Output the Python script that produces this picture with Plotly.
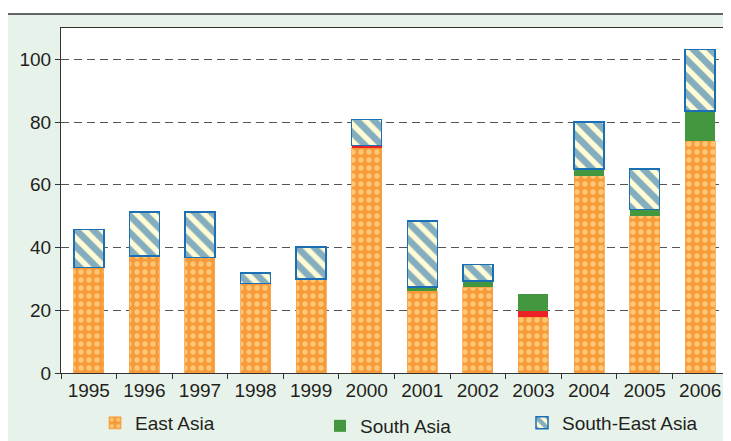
import plotly.graph_objects as go

years = ["1995", "1996", "1997", "1998", "1999", "2000", "2001", "2002", "2003", "2004", "2005", "2006"]
east_asia = [33.7, 37.3, 36.8, 28.5, 29.9, 72.0, 26.2, 27.3, 17.9, 62.9, 50.1, 74.0]
other = [0, 0, 0, 0, 0, 0.5, 0, 0, 1.8, 0, 0, 0]
south_asia = [0, 0, 0, 0, 0, 0, 1.2, 2.1, 5.5, 2.1, 2.1, 9.5]
south_east_asia = [12.0, 14.1, 14.6, 3.4, 10.3, 8.4, 21.1, 5.2, 0, 15.1, 12.8, 19.6]
y_ticks = [0, 20, 40, 60, 80, 100]

FONT = "Liberation Sans, Arial, sans-serif"
TXT = "#231f20"
GREEN_BG = "#e7f3ea"

fig = go.Figure()
fig.add_trace(go.Bar(
    x=years, y=east_asia, name="East Asia", legend="legend",
    marker=dict(color="#f8a448",
                pattern=dict(shape=".", fgcolor="#fff3ad", bgcolor="#f79a3a", size=8, solidity=0.35),
                line=dict(color="#f7a14a", width=0.8)),
))
fig.add_trace(go.Bar(
    x=years, y=other, name="Other", showlegend=False,
    marker=dict(color="#ed2227", line=dict(width=0)),
))
fig.add_trace(go.Bar(
    x=years, y=south_asia, name="South Asia", legend="legend2",
    marker=dict(color="#43983f", line=dict(width=0)),
))
fig.add_trace(go.Bar(
    x=years, y=south_east_asia, name="South-East Asia", legend="legend3",
    marker=dict(color="#fffbd5",
                pattern=dict(shape="\\", fgcolor="#0a5fa8", bgcolor="#fffbd5", size=12, solidity=0.55),
                line=dict(color="#1b6fb5", width=[1.5 if v > 0 else 0 for v in south_east_asia])),
))

OFF = 8  # page body margin
W, H = 731 - OFF, 441 - OFF
L, T = 61 - OFF, 28 - OFF
R = W - (728 - OFF)
B = H - (373 - OFF)
pw, ph = W - L - R, H - T - B

def px_x(px):
    return (px - OFF - L) / pw

def px_y(py):
    return (H - B - (py - OFF)) / ph

legend_common = dict(orientation="h", xanchor="left", yanchor="middle",
                     bgcolor="rgba(0,0,0,0)", font=dict(family=FONT, size=19, color=TXT))

fig.update_layout(
    width=W, height=H,
    margin=dict(l=L, r=R, t=T, b=B, autoexpand=False),
    barmode="stack", bargap=0.46,
    paper_bgcolor=GREEN_BG, plot_bgcolor="white",
    font=dict(family=FONT, size=19, color=TXT),
    legend=dict(x=px_x(95), y=px_y(423), **legend_common),
    legend2=dict(x=px_x(320), y=px_y(426), **legend_common),
    legend3=dict(x=px_x(522), y=px_y(423), **legend_common),
    xaxis=dict(type="category", showline=True, linecolor="#333333", linewidth=1.2, mirror=True,
               ticks="outside", tickson="boundaries", ticklen=5, tickcolor="#333333",
               tickfont=dict(size=19, color=TXT), showgrid=False, automargin=False),
    yaxis=dict(range=[0, 110], tickvals=y_ticks, showline=True, linecolor="#333333", linewidth=1.2,
               mirror=True, ticks="outside", ticklen=5, tickcolor="#333333",
               tickfont=dict(size=19, color=TXT), automargin=False,
               showgrid=True, gridcolor="#555555", gridwidth=1, griddash="8px,5px", zeroline=False),
    shapes=[
        dict(type="rect", xref="paper", yref="paper", x0=px_x(-5), x1=px_x(740), y0=px_y(14), y1=px_y(-5),
             fillcolor="white", line=dict(width=0), layer="below"),
        dict(type="line", xref="paper", yref="paper", x0=px_x(7), x1=px_x(740), y0=px_y(14), y1=px_y(14),
             line=dict(color="#333333", width=1.5)),
    ],
)

fig.write_html("out.html")
